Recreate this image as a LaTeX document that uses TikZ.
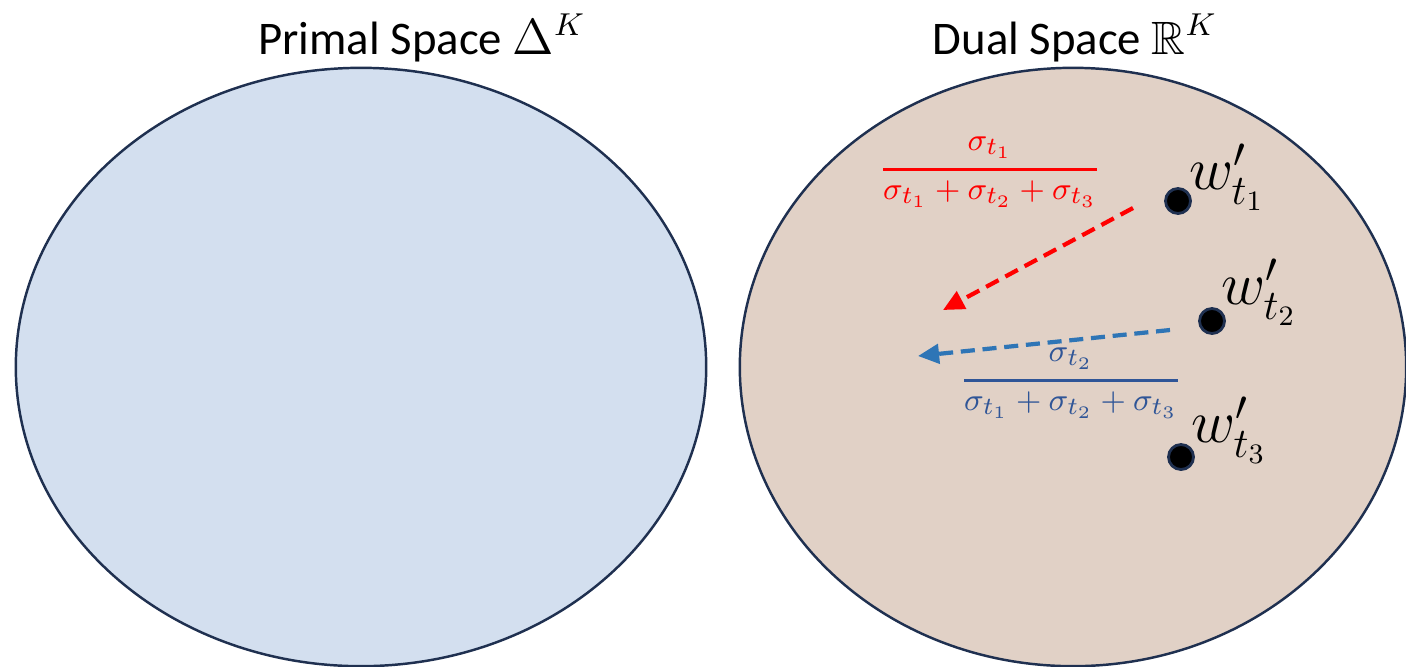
\documentclass[tikz,border=0pt]{standalone}
\usepackage{amsmath}
\usepackage{amssymb}
\usepackage{fontspec}
\setsansfont{Carlito}
\usetikzlibrary{shapes.geometric,arrows.meta}
\definecolor{blunotte}{HTML}{1F3050}
\definecolor{celeste}{HTML}{D3DFEF}
\definecolor{sabbia}{HTML}{E1D1C6}
\definecolor{rosso}{HTML}{FF0000}
\definecolor{bluchiaro}{HTML}{2E75B6}
\definecolor{bluscuro}{HTML}{2F5597}

\begin{document}
\begin{tikzpicture}[x=0.01cm, y=-0.01cm,
        spazio/.style={ellipse, draw=blunotte, line width=0.7pt, inner sep=0pt},
        titolo/.style={font=\sffamily\fontsize{13.3}{15}\selectfont, text=black},
        punto/.style={circle, draw=blunotte, line width=0.8pt, fill=black,
                minimum size=0.25cm, inner sep=0pt},
        peso/.style={font=\fontsize{17}{20}\selectfont, text=black},
        quota/.style={font=\fontsize{9.3}{11}\selectfont},
        freccia/.style={line width=1.2pt, dash pattern=on 4pt off 2.2pt,
                -{Triangle[length=6pt,width=5.5pt]}}
    ]
    \useasboundingbox (0,0) rectangle (1406,666);
    % i due spazi
    \node[spazio, fill=celeste, minimum width=6.9cm, minimum height=5.98cm] (primale) at (361,367) {};
    \node[spazio, fill=sabbia, minimum width=6.66cm, minimum height=5.98cm] (duale) at (1073,367) {};

    \node[titolo] (tprimale) at (422,38) {Primal Space $\Delta^K$};
    \node[titolo] (tduale) at (1075,38) {Dual Space $\mathbb{R}^K$};

    % pesi nello spazio duale
    \node[punto] (w1) at (1178,201) {};
    \node[punto] (w2) at (1212,321) {};
    \node[punto] (w3) at (1181,457) {};
    \node[peso] (l1) at (1227,177) {$w'_{t_1}$};
    \node[peso] (l2) at (1259,292) {$w'_{t_2}$};
    \node[peso] (l3) at (1229,430) {$w'_{t_3}$};

    \coordinate (r1) at (1133,208);
    \coordinate (r2) at (943,310);
    \coordinate (b1) at (1170,330);
    \coordinate (b2) at (918,356);
    \draw[freccia, color=rosso] (r1) -- (r2);
    \draw[freccia, color=bluchiaro] (b1) -- (b2);

    \node[quota, text=rosso] (f1) at (990,172)
    {$\genfrac{}{}{0.9pt}{0}{\sigma_{t_1}}{\sigma_{t_1}+\sigma_{t_2}+\sigma_{t_3}}$};
    \node[quota, text=bluscuro] (f2) at (1071,383)
    {$\genfrac{}{}{0.9pt}{0}{\sigma_{t_2}}{\sigma_{t_1}+\sigma_{t_2}+\sigma_{t_3}}$};
\end{tikzpicture}
\end{document}
